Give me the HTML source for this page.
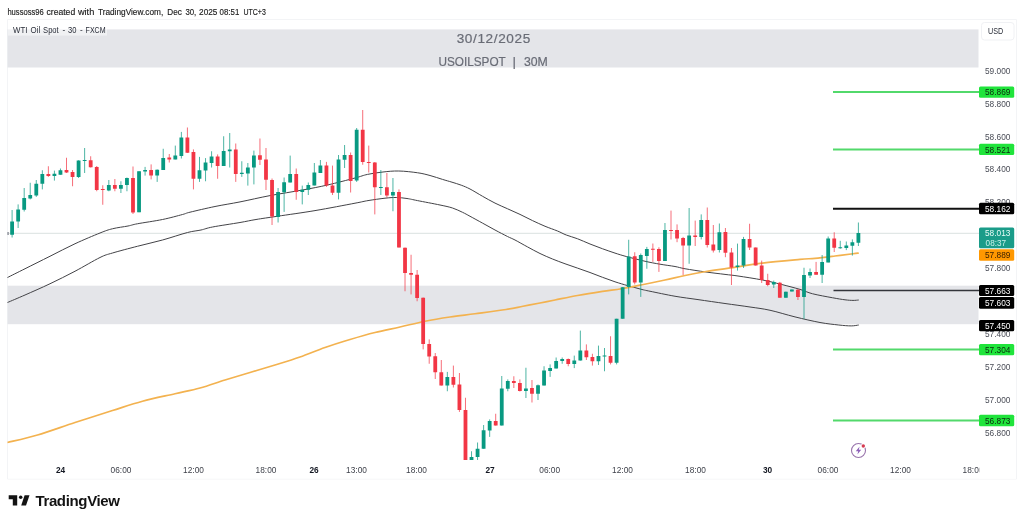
<!DOCTYPE html>
<html><head><meta charset="utf-8"><title>WTI Oil Spot</title>
<style>
html,body{margin:0;padding:0;background:#fff;}
body{width:1024px;height:522px;overflow:hidden;font-family:"Liberation Sans",sans-serif;}
svg{display:block}
svg text{font-family:"Liberation Sans",sans-serif;}
</style></head><body>
<svg width="1024" height="522" viewBox="0 0 1024 522">
<rect width="1024" height="522" fill="#fff"/>
<!-- frame -->
<path d="M7.5,19.5H1016.5V479H7.5z" fill="none" stroke="#f3f4f6" stroke-width="1"/>
<!-- header -->
<text id="hdr" y="14.55" font-size="8.7" fill="#1c1c1c" stroke="#1c1c1c" stroke-width="0.15"><tspan x="7.4" textLength="36.4" lengthAdjust="spacingAndGlyphs">hussoss96</tspan> <tspan x="46.5" textLength="28.7" lengthAdjust="spacingAndGlyphs">created</tspan> <tspan x="77.9" textLength="16.4" lengthAdjust="spacingAndGlyphs">with</tspan> <tspan x="97.9" textLength="65.3" lengthAdjust="spacingAndGlyphs">TradingView.com,</tspan> <tspan x="167.3" textLength="14.5" lengthAdjust="spacingAndGlyphs">Dec</tspan> <tspan x="185.4" textLength="10.9" lengthAdjust="spacingAndGlyphs">30,</tspan> <tspan x="199.1" textLength="18.3" lengthAdjust="spacingAndGlyphs">2025</tspan> <tspan x="219.6" textLength="19.7" lengthAdjust="spacingAndGlyphs">08:51</tspan> <tspan x="243.4" textLength="22.4" lengthAdjust="spacingAndGlyphs">UTC+3</tspan></text>
<!-- gray bands -->
<rect x="7.5" y="29.4" width="971" height="38.1" fill="#e4e5e9"/>
<rect x="7.5" y="285.7" width="971" height="38.5" fill="#e4e5e9"/>
<rect x="8" y="20" width="99" height="15.6" fill="#fff" opacity="0.45"/>
<text id="leg" y="33.4" font-size="9" fill="#2a2e39"><tspan x="13.1" textLength="14.4" lengthAdjust="spacingAndGlyphs">WTI</tspan> <tspan x="30.6" textLength="9.6" lengthAdjust="spacingAndGlyphs">Oil</tspan> <tspan x="43.1" textLength="15.6" lengthAdjust="spacingAndGlyphs">Spot</tspan> <tspan x="62.4" textLength="2.7" lengthAdjust="spacingAndGlyphs">-</tspan> <tspan x="68.1" textLength="8.4" lengthAdjust="spacingAndGlyphs">30</tspan> <tspan x="79.9" textLength="2.7" lengthAdjust="spacingAndGlyphs">-</tspan> <tspan x="85.6" textLength="20" lengthAdjust="spacingAndGlyphs">FXCM</tspan></text>
<text id="t1" x="456.7" y="42.5" font-size="13.6" textLength="73.5" lengthAdjust="spacing" fill="#696c76" stroke="#696c76" stroke-width="0.2">30/12/2025</text>
<text id="t2" y="66.1" font-size="13.4" fill="#696c76" stroke="#696c76" stroke-width="0.2"><tspan x="438.4" textLength="67.2" lengthAdjust="spacingAndGlyphs">USOILSPOT</tspan> <tspan x="512.6">|</tspan> <tspan x="523.9" textLength="23.9" lengthAdjust="spacingAndGlyphs">30M</tspan></text>
<!-- price line dotted -->
<path d="M7.5,233.3H979" stroke="#a9b8b6" stroke-width="1" stroke-dasharray="1 1" opacity="0.85"/>
<!-- horizontal levels -->
<g stroke-width="2" fill="none">
<path d="M833,92.1H979" stroke="#52d96b"/>
<path d="M833,149.5H979" stroke="#52d96b"/>
<path d="M833,208.7H979" stroke="#111"/>
<path d="M833.5,290.5H979" stroke="#33353b" stroke-width="1.6"/>
<path d="M833,349.5H979" stroke="#52d96b"/>
<path d="M833,420.5H979" stroke="#52d96b"/>
</g>
<!-- envelopes / MA -->
<path d="M7.50,277.50C10.42,276.04 17.92,272.29 25.00,268.75C32.08,265.21 41.67,260.42 50.00,256.25C58.33,252.08 66.67,247.62 75.00,243.75C83.33,239.88 93.75,235.50 100.00,233.00C106.25,230.50 107.83,229.92 112.50,228.75C117.17,227.58 123.83,226.83 128.00,226.00C132.17,225.17 131.75,224.83 137.50,223.75C143.25,222.67 155.00,221.04 162.50,219.50C170.00,217.96 177.92,215.72 182.50,214.50C187.08,213.28 184.58,213.53 190.00,212.20C195.42,210.87 206.67,208.22 215.00,206.50C223.33,204.78 230.83,203.72 240.00,201.90C249.17,200.08 259.58,197.58 270.00,195.60C280.42,193.62 292.92,191.77 302.50,190.00C312.08,188.23 318.75,187.00 327.50,185.00C336.25,183.00 348.33,179.77 355.00,178.00C361.67,176.23 362.83,175.40 367.50,174.40C372.17,173.40 377.79,172.57 383.00,172.00C388.21,171.43 393.00,170.88 398.75,171.00C404.50,171.12 412.29,172.00 417.50,172.75C422.71,173.50 425.83,174.39 430.00,175.50C434.17,176.61 438.83,178.28 442.50,179.40C446.17,180.52 448.88,181.23 452.00,182.20C455.12,183.17 458.25,184.07 461.25,185.20C464.25,186.33 466.46,187.16 470.00,189.00C473.54,190.84 478.33,193.90 482.50,196.25C486.67,198.60 490.83,201.02 495.00,203.10C499.17,205.18 503.33,206.87 507.50,208.75C511.67,210.63 515.83,212.43 520.00,214.40C524.17,216.38 528.33,218.62 532.50,220.60C536.67,222.57 540.83,224.52 545.00,226.25C549.17,227.98 553.96,229.54 557.50,231.00C561.04,232.46 562.92,233.71 566.25,235.00C569.58,236.29 573.54,237.25 577.50,238.75C581.46,240.25 585.83,242.33 590.00,244.00C594.17,245.67 598.33,247.23 602.50,248.75C606.67,250.27 611.04,251.81 615.00,253.10C618.96,254.39 621.25,255.14 626.25,256.50C631.25,257.86 639.38,259.97 645.00,261.25C650.62,262.53 655.00,263.32 660.00,264.20C665.00,265.07 670.83,265.74 675.00,266.50C679.17,267.26 679.83,267.83 685.00,268.75C690.17,269.67 699.33,271.06 706.00,272.00C712.67,272.94 719.67,273.73 725.00,274.40C730.33,275.07 731.75,275.07 738.00,276.00C744.25,276.93 755.29,278.60 762.50,280.00C769.71,281.40 775.00,282.83 781.25,284.40C787.50,285.97 794.79,287.84 800.00,289.40C805.21,290.96 807.08,292.36 812.50,293.75C817.92,295.14 827.08,296.74 832.50,297.75C837.92,298.76 841.58,299.36 845.00,299.80C848.42,300.24 850.71,300.37 853.00,300.40C855.29,300.43 857.79,300.07 858.75,300.00" fill="none" stroke="#434347" stroke-width="1"/>
<path d="M7.50,302.50C10.42,301.25 17.92,298.12 25.00,295.00C32.08,291.88 41.67,287.71 50.00,283.75C58.33,279.79 66.67,275.62 75.00,271.25C83.33,266.88 93.75,260.54 100.00,257.50C106.25,254.46 106.25,254.88 112.50,253.00C118.75,251.12 129.17,248.42 137.50,246.25C145.83,244.08 154.17,242.29 162.50,240.00C170.83,237.71 181.08,234.17 187.50,232.50C193.92,230.83 196.83,230.92 201.00,230.00C205.17,229.08 206.00,228.25 212.50,227.00C219.00,225.75 232.75,223.75 240.00,222.50C247.25,221.25 249.75,220.54 256.00,219.50C262.25,218.46 267.67,217.73 277.50,216.25C287.33,214.77 302.08,212.78 315.00,210.60C327.92,208.42 346.17,204.87 355.00,203.20C363.83,201.53 363.00,201.43 368.00,200.60C373.00,199.77 380.29,198.72 385.00,198.20C389.71,197.68 392.58,197.45 396.25,197.50C399.92,197.55 403.46,197.98 407.00,198.50C410.54,199.02 412.00,199.52 417.50,200.60C423.00,201.68 434.17,203.77 440.00,205.00C445.83,206.23 448.75,206.78 452.50,208.00C456.25,209.22 459.58,210.93 462.50,212.30C465.42,213.68 466.67,214.45 470.00,216.25C473.33,218.05 478.33,220.81 482.50,223.10C486.67,225.39 490.83,227.77 495.00,230.00C499.17,232.23 504.17,234.83 507.50,236.50C510.83,238.17 511.67,238.27 515.00,240.00C518.33,241.73 523.33,244.65 527.50,246.90C531.67,249.15 535.83,251.48 540.00,253.50C544.17,255.52 548.33,257.29 552.50,259.00C556.67,260.71 560.83,262.23 565.00,263.75C569.17,265.27 573.33,266.64 577.50,268.10C581.67,269.56 585.83,270.97 590.00,272.50C594.17,274.03 598.33,275.75 602.50,277.30C606.67,278.85 610.83,280.42 615.00,281.80C619.17,283.18 624.17,284.63 627.50,285.60C630.83,286.57 632.42,286.91 635.00,287.60C637.58,288.29 640.50,289.14 643.00,289.75C645.50,290.36 644.67,290.17 650.00,291.25C655.33,292.33 667.00,294.86 675.00,296.25C683.00,297.64 689.67,298.39 698.00,299.60C706.33,300.81 716.33,302.27 725.00,303.50C733.67,304.73 742.50,305.88 750.00,307.00C757.50,308.12 762.50,308.60 770.00,310.25C777.50,311.90 786.67,314.86 795.00,316.90C803.33,318.94 812.71,321.15 820.00,322.50C827.29,323.85 833.54,324.43 838.75,325.00C843.96,325.57 847.92,325.90 851.25,325.90C854.58,325.90 857.50,325.15 858.75,325.00" fill="none" stroke="#434347" stroke-width="1"/>
<path d="M7.50,442.50C12.50,441.25 26.25,438.33 37.50,435.00C48.75,431.67 62.50,426.58 75.00,422.50C87.50,418.42 101.25,414.04 112.50,410.50C123.75,406.96 132.08,404.04 142.50,401.25C152.92,398.46 165.42,395.96 175.00,393.75C184.58,391.54 191.67,390.29 200.00,388.00C208.33,385.71 216.67,382.58 225.00,380.00C233.33,377.42 241.67,375.00 250.00,372.50C258.33,370.00 266.67,367.58 275.00,365.00C283.33,362.42 291.67,359.92 300.00,357.00C308.33,354.08 316.67,350.42 325.00,347.50C333.33,344.58 341.67,342.00 350.00,339.50C358.33,337.00 366.67,334.58 375.00,332.50C383.33,330.42 391.67,328.88 400.00,327.00C408.33,325.12 416.67,322.92 425.00,321.25C433.33,319.58 441.67,318.25 450.00,317.00C458.33,315.75 465.67,315.00 475.00,313.75C484.33,312.50 498.00,310.75 506.00,309.50C514.00,308.25 517.33,307.33 523.00,306.25C528.67,305.17 534.67,304.04 540.00,303.00C545.33,301.96 548.75,301.25 555.00,300.00C561.25,298.75 569.58,296.93 577.50,295.50C585.42,294.07 595.21,292.52 602.50,291.40C609.79,290.27 614.83,289.82 621.25,288.75C627.67,287.68 633.71,286.46 641.00,285.00C648.29,283.54 657.67,281.58 665.00,280.00C672.33,278.42 678.17,276.92 685.00,275.50C691.83,274.08 698.71,272.72 706.00,271.50C713.29,270.28 719.33,269.60 728.75,268.20C738.17,266.80 750.62,264.57 762.50,263.10C774.38,261.63 791.25,260.20 800.00,259.40C808.75,258.60 809.17,258.87 815.00,258.30C820.83,257.73 828.67,256.76 835.00,256.00C841.33,255.24 849.04,254.23 853.00,253.75C856.96,253.27 857.79,253.21 858.75,253.10" fill="none" stroke="#f3b24f" stroke-width="1.7"/>
<!-- candles -->
<g shape-rendering="auto">
<path d="M12.10,210.00V237.50M18.14,204.40V228.00M24.19,188.00V211.50M30.23,182.75V199.40M36.28,180.00V196.90M42.33,170.25V189.40M54.41,170.60V180.60M60.46,168.50V174.75M78.59,160.25V178.00M84.64,148.00V173.00M108.82,180.00V191.25M120.91,181.25V193.00M126.95,177.50V191.25M139.04,171.25V212.25M145.09,166.90V175.60M157.18,169.40V181.90M163.22,148.75V170.00M175.31,145.60V159.40M181.36,131.90V158.50M199.50,156.90V181.90M205.54,158.10V181.25M211.58,151.25V167.50M223.67,136.25V166.00M229.72,133.00V167.50M241.81,161.25V176.90M247.85,163.00V185.60M253.90,150.60V184.40M278.08,188.00V222.50M284.12,177.50V211.90M290.17,155.60V182.50M302.26,185.60V204.40M308.31,182.50V195.00M314.35,163.00V185.40M320.40,160.00V172.90M338.53,155.00V199.40M344.58,145.00V168.00M356.67,128.00V181.90M380.85,170.00V195.00M392.94,178.00V211.25M447.34,371.90V391.25M471.52,451.25V460.00M477.56,442.50V460.00M483.61,425.00V448.75M489.66,419.40V436.90M501.75,376.00V425.60M507.79,379.40V391.25M525.93,367.75V398.00M538.01,384.50V400.00M544.06,366.25V385.60M550.11,364.40V376.90M556.15,357.50V368.50M562.20,357.50V363.75M574.28,355.60V368.10M580.33,330.60V360.60M598.47,345.60V365.00M604.51,348.00V371.25M616.60,318.75V364.40M622.64,287.00V318.75M628.69,239.75V294.40M640.78,253.50V296.90M646.83,246.90V268.75M664.96,223.00V260.90M689.14,208.00V263.75M701.23,214.40V239.40M719.37,223.50V252.50M737.50,243.60V270.60M743.54,236.90V268.00M773.77,280.60V288.00M785.86,291.60V297.75M791.90,289.40V291.50M804.00,267.75V318.75M810.04,268.50V278.00M822.13,255.00V283.00M828.18,236.50V262.40M840.26,240.80V248.75M846.31,241.50V250.10M852.36,239.40V255.60M858.40,222.50V246.00" stroke="#089981" stroke-width="1" fill="none" opacity="0.72"/>
<path d="M48.37,166.25V176.90M66.50,157.75V173.00M72.55,170.00V186.25M90.68,156.25V167.50M96.73,166.00V191.25M102.77,185.25V204.75M114.86,179.00V191.25M133.00,166.50V214.00M151.13,164.40V179.40M169.27,154.00V162.50M187.41,127.50V153.00M193.45,149.40V189.40M217.63,154.40V178.75M235.76,143.50V181.90M259.94,138.50V165.00M265.99,148.00V190.00M272.04,178.50V225.00M296.22,168.50V199.75M326.44,161.90V186.90M332.49,165.60V195.00M350.62,152.50V192.50M362.71,110.00V164.75M368.75,145.60V172.50M374.80,162.00V214.40M386.89,173.00V197.50M398.98,189.40V247.50M405.03,247.50V291.25M411.07,254.75V294.40M417.12,270.00V301.25M423.16,297.50V349.40M429.21,339.40V363.75M435.25,353.00V379.00M441.30,360.00V385.60M453.38,365.60V387.50M459.43,373.00V411.90M465.48,397.75V460.00M495.70,413.75V425.60M513.84,376.25V388.00M519.88,379.40V391.50M531.97,380.00V402.50M568.24,358.50V366.25M586.38,344.40V360.00M592.42,353.75V365.60M610.56,336.25V364.40M634.74,252.25V284.40M652.87,243.50V261.90M658.91,247.25V271.90M671.00,210.60V239.50M677.05,224.40V242.20M683.10,236.90V275.00M695.19,220.60V246.00M707.27,207.50V247.50M713.32,225.00V252.50M725.41,228.00V257.20M731.46,248.00V285.00M749.59,223.75V250.00M755.63,247.50V265.60M761.68,260.60V283.00M767.73,273.75V286.25M779.82,281.90V297.75M797.95,289.00V300.00M816.09,261.90V274.75M834.22,232.25V252.00" stroke="#f23645" stroke-width="1" fill="none" opacity="0.72"/>
<path d="M10.20,221.50h3.8V234.75h-3.8zM16.25,209.40h3.8V221.60h-3.8zM22.29,197.90h3.8V209.75h-3.8zM28.34,195.00h3.8V198.50h-3.8zM34.38,183.75h3.8V195.60h-3.8zM40.43,174.00h3.8V183.75h-3.8zM52.52,173.75h3.8V175.90h-3.8zM58.56,170.25h3.8V174.75h-3.8zM76.69,160.60h3.8V176.90h-3.8zM82.74,160.00h3.8V161.00h-3.8zM106.92,185.00h3.8V190.60h-3.8zM119.01,185.00h3.8V188.75h-3.8zM125.05,177.90h3.8V185.00h-3.8zM137.14,171.25h3.8V212.25h-3.8zM143.19,170.00h3.8V171.50h-3.8zM155.28,169.75h3.8V175.60h-3.8zM161.32,157.90h3.8V170.00h-3.8zM173.41,155.40h3.8V159.40h-3.8zM179.46,137.50h3.8V155.90h-3.8zM197.59,170.25h3.8V178.75h-3.8zM203.64,162.50h3.8V170.60h-3.8zM209.68,156.60h3.8V162.90h-3.8zM221.77,150.90h3.8V166.00h-3.8zM227.82,149.40h3.8V151.25h-3.8zM239.91,172.75h3.8V174.00h-3.8zM245.95,167.50h3.8V173.50h-3.8zM252.00,155.40h3.8V167.60h-3.8zM276.18,191.90h3.8V216.90h-3.8zM282.23,182.25h3.8V192.25h-3.8zM288.27,174.00h3.8V182.50h-3.8zM300.36,189.75h3.8V191.90h-3.8zM306.41,185.00h3.8V189.75h-3.8zM312.45,172.50h3.8V185.40h-3.8zM318.50,165.60h3.8V172.90h-3.8zM336.63,159.40h3.8V192.75h-3.8zM342.68,155.00h3.8V159.75h-3.8zM354.77,129.75h3.8V180.60h-3.8zM378.95,186.90h3.8V187.90h-3.8zM391.04,191.90h3.8V195.60h-3.8zM445.44,377.00h3.8V385.60h-3.8zM469.62,456.90h3.8V460.00h-3.8zM475.67,448.75h3.8V457.00h-3.8zM481.71,430.25h3.8V448.75h-3.8zM487.76,421.00h3.8V430.40h-3.8zM499.85,388.40h3.8V425.60h-3.8zM505.89,381.00h3.8V388.75h-3.8zM524.03,388.50h3.8V390.90h-3.8zM536.12,385.25h3.8V393.75h-3.8zM542.16,370.60h3.8V385.60h-3.8zM548.21,368.10h3.8V370.90h-3.8zM554.25,361.00h3.8V368.50h-3.8zM560.30,359.10h3.8V361.00h-3.8zM572.38,360.40h3.8V364.00h-3.8zM578.43,350.60h3.8V360.60h-3.8zM596.57,356.00h3.8V361.25h-3.8zM602.61,355.40h3.8V356.40h-3.8zM614.70,318.75h3.8V362.75h-3.8zM620.75,287.25h3.8V318.75h-3.8zM626.79,256.50h3.8V286.90h-3.8zM638.88,255.00h3.8V282.50h-3.8zM644.93,249.00h3.8V255.90h-3.8zM663.06,230.00h3.8V260.90h-3.8zM687.24,235.60h3.8V245.60h-3.8zM699.33,220.00h3.8V237.00h-3.8zM717.47,232.20h3.8V250.00h-3.8zM735.60,265.40h3.8V267.10h-3.8zM741.64,239.00h3.8V265.60h-3.8zM771.87,281.90h3.8V284.50h-3.8zM783.96,291.75h3.8V297.75h-3.8zM790.00,289.50h3.8V291.50h-3.8zM802.10,275.00h3.8V297.00h-3.8zM808.14,271.90h3.8V275.60h-3.8zM820.23,262.00h3.8V274.75h-3.8zM826.28,238.60h3.8V262.40h-3.8zM838.37,247.20h3.8V248.20h-3.8zM844.41,245.60h3.8V248.00h-3.8zM850.46,242.25h3.8V245.80h-3.8zM856.50,233.10h3.8V242.75h-3.8z" fill="#089981"/>
<path d="M46.47,174.00h3.8V176.00h-3.8zM64.60,170.00h3.8V172.50h-3.8zM70.65,171.90h3.8V176.90h-3.8zM88.78,160.25h3.8V167.25h-3.8zM94.83,166.90h3.8V190.00h-3.8zM100.87,189.00h3.8V190.00h-3.8zM112.96,185.00h3.8V188.75h-3.8zM131.10,178.00h3.8V212.50h-3.8zM149.23,170.00h3.8V175.60h-3.8zM167.37,157.50h3.8V159.40h-3.8zM185.50,137.50h3.8V152.75h-3.8zM191.55,152.10h3.8V178.75h-3.8zM215.73,156.60h3.8V166.00h-3.8zM233.86,149.40h3.8V174.00h-3.8zM258.05,155.25h3.8V159.75h-3.8zM264.09,159.60h3.8V179.75h-3.8zM270.14,180.00h3.8V216.50h-3.8zM294.32,174.00h3.8V191.90h-3.8zM324.54,165.60h3.8V185.60h-3.8zM330.59,185.60h3.8V192.75h-3.8zM348.72,155.00h3.8V181.00h-3.8zM360.81,129.75h3.8V162.00h-3.8zM366.86,161.90h3.8V162.90h-3.8zM372.90,162.50h3.8V187.25h-3.8zM384.99,187.25h3.8V195.60h-3.8zM397.08,191.90h3.8V247.50h-3.8zM403.13,247.75h3.8V273.10h-3.8zM409.17,272.90h3.8V274.75h-3.8zM415.22,274.75h3.8V298.10h-3.8zM421.26,297.75h3.8V344.00h-3.8zM427.31,344.00h3.8V356.60h-3.8zM433.35,356.25h3.8V372.25h-3.8zM439.40,372.25h3.8V385.60h-3.8zM451.49,377.00h3.8V384.75h-3.8zM457.53,384.40h3.8V410.00h-3.8zM463.58,410.00h3.8V460.00h-3.8zM493.80,421.00h3.8V425.60h-3.8zM511.94,381.00h3.8V382.90h-3.8zM517.98,382.90h3.8V390.90h-3.8zM530.07,388.00h3.8V393.75h-3.8zM566.34,359.10h3.8V364.00h-3.8zM584.48,350.60h3.8V357.25h-3.8zM590.52,356.90h3.8V361.25h-3.8zM608.66,356.00h3.8V362.75h-3.8zM632.84,256.25h3.8V282.50h-3.8zM650.97,248.75h3.8V249.75h-3.8zM657.01,249.00h3.8V260.90h-3.8zM669.11,230.00h3.8V231.00h-3.8zM675.15,230.00h3.8V238.60h-3.8zM681.20,237.90h3.8V245.60h-3.8zM693.29,235.50h3.8V237.10h-3.8zM705.38,220.00h3.8V245.00h-3.8zM711.42,244.50h3.8V250.60h-3.8zM723.51,232.00h3.8V252.75h-3.8zM729.56,252.60h3.8V267.50h-3.8zM747.69,239.00h3.8V247.60h-3.8zM753.74,247.60h3.8V265.60h-3.8zM759.78,265.40h3.8V280.00h-3.8zM765.83,280.00h3.8V285.00h-3.8zM777.92,282.75h3.8V297.75h-3.8zM796.05,289.80h3.8V297.00h-3.8zM814.19,271.90h3.8V274.75h-3.8zM832.32,238.60h3.8V247.80h-3.8z" fill="#f23645"/>
</g>
<rect x="7.2" y="232" width="1.8" height="3" fill="#a3a6ad"/>
<!-- price axis -->
<rect x="979" y="20" width="37" height="458.5" fill="#fff"/>
<g font-size="8.8" fill="#4a4d57">
<text x="985" y="73.7" textLength="25.4" lengthAdjust="spacingAndGlyphs">59.000</text><text x="985" y="106.6" textLength="25.4" lengthAdjust="spacingAndGlyphs">58.800</text><text x="985" y="139.5" textLength="25.4" lengthAdjust="spacingAndGlyphs">58.600</text><text x="985" y="172.4" textLength="25.4" lengthAdjust="spacingAndGlyphs">58.400</text><text x="985" y="205.3" textLength="25.4" lengthAdjust="spacingAndGlyphs">58.200</text><text x="985" y="271.1" textLength="25.4" lengthAdjust="spacingAndGlyphs">57.800</text><text x="985" y="336.9" textLength="25.4" lengthAdjust="spacingAndGlyphs">57.400</text><text x="985" y="369.8" textLength="25.4" lengthAdjust="spacingAndGlyphs">57.200</text><text x="985" y="402.7" textLength="25.4" lengthAdjust="spacingAndGlyphs">57.000</text><text x="985" y="435.6" textLength="25.4" lengthAdjust="spacingAndGlyphs">56.800</text>
</g>
<rect x="981.5" y="22.5" width="32.5" height="17.5" rx="3" fill="#fff" stroke="#f0f1f4" stroke-width="1"/>
<text x="988" y="33.8" font-size="8.8" textLength="15.2" lengthAdjust="spacingAndGlyphs" fill="#2a2e39">USD</text>
<g font-size="8.8">
<rect x="979" y="86.4" width="35.2" height="11.4" rx="1.5" fill="#20e43b"/><text x="985" y="95.2" textLength="25.4" lengthAdjust="spacingAndGlyphs" fill="#0b2a10">58.869</text>
<rect x="979" y="143.7" width="35.2" height="11.4" rx="1.5" fill="#20e43b"/><text x="985" y="152.5" textLength="25.4" lengthAdjust="spacingAndGlyphs" fill="#0b2a10">58.521</text>
<rect x="979" y="202.8" width="35.2" height="11.4" rx="1.5" fill="#000"/><text x="985" y="211.6" textLength="25.4" lengthAdjust="spacingAndGlyphs" fill="#fff">58.162</text>
<rect x="979" y="227.5" width="35.2" height="20.8" rx="1.5" fill="#1a9c89"/>
<text x="985" y="236.4" textLength="25.4" lengthAdjust="spacingAndGlyphs" fill="#e6fbf6">58.013</text>
<text x="985.6" y="246.2" textLength="20.4" lengthAdjust="spacingAndGlyphs" fill="#c9f1ea">08:37</text>
<rect x="979" y="249.3" width="35.2" height="11.4" rx="1.5" fill="#ff9800"/>
<text x="985" y="258.1" textLength="25.4" lengthAdjust="spacingAndGlyphs" fill="#3d2200">57.889</text>
<rect x="979" y="285" width="35.2" height="11" rx="1.5" fill="#000"/><text x="985" y="293.6" textLength="25.4" lengthAdjust="spacingAndGlyphs" fill="#fff">57.663</text>
<rect x="979" y="296.9" width="35.2" height="11.8" rx="1.5" fill="#000"/><text x="985" y="305.9" textLength="25.4" lengthAdjust="spacingAndGlyphs" fill="#fff">57.603</text>
<rect x="979" y="319.9" width="35.2" height="11.4" rx="1.5" fill="#000"/><text x="985" y="328.7" textLength="25.4" lengthAdjust="spacingAndGlyphs" fill="#fff">57.450</text>
<rect x="979" y="343.9" width="35.2" height="11.4" rx="1.5" fill="#20e43b"/><text x="985" y="352.7" textLength="25.4" lengthAdjust="spacingAndGlyphs" fill="#0b2a10">57.304</text>
<rect x="979" y="414.8" width="35.2" height="11.4" rx="1.5" fill="#20e43b"/><text x="985" y="423.6" textLength="25.4" lengthAdjust="spacingAndGlyphs" fill="#0b2a10">56.873</text>
</g>
<!-- time axis -->
<rect x="8" y="460.2" width="1008" height="18.3" fill="#fff"/>
<clipPath id="tc"><rect x="8" y="460" width="971.3" height="19"/></clipPath>
<g font-size="8.3" fill="#3c3f48" clip-path="url(#tc)">
<text x="60.5" y="472.8" text-anchor="middle" font-weight="bold" fill="#131722">24</text><text x="121" y="472.8" text-anchor="middle">06:00</text><text x="193.5" y="472.8" text-anchor="middle">12:00</text><text x="266" y="472.8" text-anchor="middle">18:00</text><text x="314" y="472.8" text-anchor="middle" font-weight="bold" fill="#131722">26</text><text x="356.5" y="472.8" text-anchor="middle">13:00</text><text x="416.5" y="472.8" text-anchor="middle">18:00</text><text x="490" y="472.8" text-anchor="middle" font-weight="bold" fill="#131722">27</text><text x="549.7" y="472.8" text-anchor="middle">06:00</text><text x="622.5" y="472.8" text-anchor="middle">12:00</text><text x="695.5" y="472.8" text-anchor="middle">18:00</text><text x="767.5" y="472.8" text-anchor="middle" font-weight="bold" fill="#131722">30</text><text x="828" y="472.8" text-anchor="middle">06:00</text><text x="900.5" y="472.8" text-anchor="middle">12:00</text><text x="973" y="472.8" text-anchor="middle">18:00</text>
</g>
<!-- lightning icon -->
<g transform="translate(858.5,450.5)">
<circle r="7" fill="#fff" stroke="#9873ab" stroke-width="1.1"/>
<path d="M1.1,-3.9L-2.7,0.7H-0.3L-1.1,3.9L2.7,-0.7H0.3z" fill="#8d5fb8"/>
<circle cx="4.8" cy="-4.5" r="2.5" fill="#fff"/>
<circle cx="4.8" cy="-4.5" r="1.7" fill="#d63b52"/>
</g>
<!-- TradingView logo -->
<g fill="#131313">
<path d="M8.7,495.3H17.2V505.6H12.8V499.2H8.7z"/>
<circle cx="20.7" cy="497.2" r="1.75"/>
<path d="M24.6,495.3H29.5L26,505.6H21.2z"/>
<text id="tv" x="35.4" y="505.6" font-size="15" font-weight="bold" textLength="84.6" lengthAdjust="spacing">TradingView</text>
</g>
</svg>
</body></html>
